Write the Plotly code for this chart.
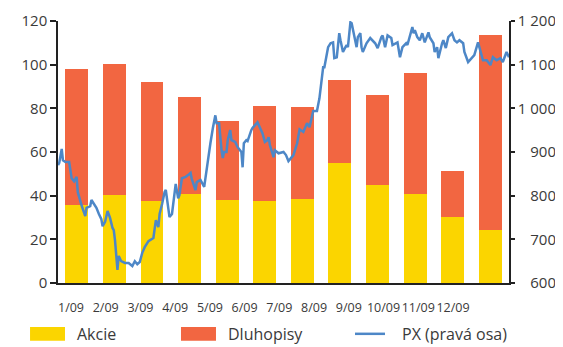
import plotly.graph_objects as go

# ---------------- data ----------------
months = ["1/09", "2/09", "3/09", "4/09", "5/09", "6/09",
          "7/09", "8/09", "9/09", "10/09", "11/09", "12/09"]
akcie = [35.7, 40.3, 37.6, 40.9, 38.0, 37.6, 38.5, 55.0, 44.9, 40.8, 30.2, 24.3]
dluhopisy = [62.3, 60.0, 54.4, 44.3, 36.2, 43.4, 42.1, 38.0, 41.2, 55.4, 21.1, 89.4]

px_day = [0, 1, 3, 4, 6, 9, 11, 13, 15, 16,
          19, 22, 23, 26, 27, 31, 33, 35, 36, 38,
          40, 42, 44, 45, 46, 48, 49, 51, 54, 57,
          60, 62, 64, 66, 68, 70, 73, 74, 77, 78,
          79, 81, 82, 84, 86, 87, 89, 90, 92, 94,
          95, 97, 98, 100, 103, 105, 107, 108, 111, 112,
          115, 118, 120, 123, 125, 127, 128, 130, 132, 133,
          134, 136, 137, 139, 140, 143, 145, 148, 149, 150,
          152, 153, 156, 157, 161, 162, 165, 167, 169, 170,
          171, 174, 175, 178, 182, 184, 186, 188, 190, 193,
          195, 198, 201, 203, 206, 209, 211, 214, 215, 218,
          220, 222, 223, 225, 227, 228, 230, 232, 233, 234,
          236, 237, 239, 241, 242, 244, 245, 246, 249, 252,
          256, 258, 261, 262, 264, 266, 269, 270, 274, 276,
          278, 281, 282, 286, 287, 288, 290, 292, 294, 295,
          296, 299, 300, 303, 304, 306, 307, 310, 311, 313,
          315, 318, 320, 322, 324, 327, 328, 331, 334, 336,
          339, 340, 343, 346, 349, 351, 354, 357, 359, 362,
          364]
px_value = [870, 875, 907, 881, 877, 877, 840, 833, 843, 808,
            778, 753, 772, 776, 790, 772, 758, 746, 730, 740,
            765, 749, 726, 721, 698, 630, 662, 650, 646, 646,
            639, 650, 643, 648, 669, 682, 696, 698, 703, 724,
            744, 728, 758, 781, 808, 813, 767, 751, 758, 801,
            827, 794, 801, 840, 843, 847, 852, 838, 813, 831,
            836, 820, 865, 920, 955, 984, 966, 966, 904, 886,
            900, 900, 927, 950, 927, 923, 911, 900, 865, 920,
            927, 925, 950, 955, 968, 962, 943, 923, 927, 934,
            916, 888, 904, 897, 900, 893, 879, 886, 893, 920,
            952, 946, 966, 957, 994, 994, 1023, 1094, 1094, 1140,
            1149, 1151, 1115, 1117, 1172, 1156, 1129, 1140, 1145, 1140,
            1197, 1195, 1163, 1140, 1163, 1172, 1140, 1129, 1149, 1161,
            1149, 1138, 1163, 1167, 1140, 1167, 1161, 1145, 1151, 1117,
            1140, 1149, 1145, 1186, 1172, 1179, 1163, 1156, 1172, 1161,
            1151, 1174, 1163, 1149, 1129, 1140, 1115, 1149, 1156, 1138,
            1163, 1172, 1156, 1151, 1156, 1149, 1129, 1106, 1117, 1122,
            1151, 1140, 1110, 1110, 1099, 1117, 1110, 1115, 1106, 1129,
            1117]

left_ticks = [0, 20, 40, 60, 80, 100, 120]
right_ticks = [600, 700, 800, 900, 1000, 1100, 1200]
right_ticktext = ["\u2007\u00a0600", "\u2007\u00a0700", "\u2007\u00a0800", "\u2007\u00a0900",
                  "1\u00a0000", "1\u00a0100", "1\u00a0200"]

# ---------------- style ----------------
YELLOW = "#FBD500"
ORANGE = "#F26641"
BLUE = "#4D87C7"
TXT = "#3a3a3a"
FONT = "Open Sans"

x_idx = list(range(len(months)))
label_pos = [i * 0.924 - 0.154 for i in x_idx]

fig = go.Figure()
fig.add_trace(go.Bar(x=x_idx, y=akcie, name="Akcie", marker=dict(color=YELLOW, line=dict(width=0))))
fig.add_trace(go.Bar(x=x_idx, y=dluhopisy, name="Dluhopisy", marker=dict(color=ORANGE, line=dict(width=0))))
fig.add_trace(go.Scatter(x=px_day, y=px_value, name="PX (pravá osa)", mode="lines",
                         line=dict(color=BLUE, width=2.5), xaxis="x2", yaxis="y2"))

# page body has an 8px margin, so the figure is sized 8px smaller each way
fig.update_layout(
    width=555, height=339,
    margin=dict(l=50, r=54, t=13, b=64),
    paper_bgcolor="white", plot_bgcolor="white",
    barmode="stack", bargap=0.39,
    showlegend=False,
    font=dict(family=FONT, color=TXT, size=15),
    xaxis=dict(range=[-0.5, 11.5], showline=True, linecolor="#222", linewidth=1.5,
               showgrid=False, zeroline=False, ticks="", automargin=False,
               tickmode="array", tickvals=label_pos, ticktext=months, tickangle=0,
               tickfont=dict(size=12.5, color=TXT), ticklabelstandoff=12),
    xaxis2=dict(range=[0, 364], overlaying="x", visible=False, automargin=False),
    yaxis=dict(range=[0, 120], tickvals=left_ticks, showline=True, linecolor="#222", linewidth=1.5,
               ticks="outside", ticklen=6, tickcolor="#222", tickwidth=1.5, automargin=False,
               showgrid=False, zeroline=False, tickfont=dict(size=15, color=TXT)),
    yaxis2=dict(range=[600, 1200], tickvals=right_ticks, ticktext=right_ticktext,
                overlaying="y", side="right", anchor="x", showline=True, linecolor="#222", linewidth=1.5,
                ticks="outside", ticklen=4, tickcolor="#222", tickwidth=1.5, automargin=False,
                showgrid=False, zeroline=False, tickfont=dict(size=15, color=TXT)),
)

# ---------------- legend (drawn manually for wide swatches) ----------------
legend_y = -0.194
items = [("Akcie", YELLOW, "rect", -0.062, 0.0155, 0.0377),
         ("Dluhopisy", ORANGE, "rect", 0.2727, 0.3503, 0.3725),
         ("PX (pravá osa)", BLUE, "line", 0.6585, 0.725, 0.7583)]
for name, col, kind, x0, x1, xt in items:
    if kind == "rect":
        fig.add_shape(type="rect", xref="paper", yref="paper", x0=x0, x1=x1,
                      y0=legend_y - 0.026, y1=legend_y + 0.026,
                      fillcolor=col, line=dict(width=0))
    else:
        fig.add_shape(type="line", xref="paper", yref="paper", x0=x0, x1=x1,
                      y0=legend_y, y1=legend_y, line=dict(color=col, width=2.5))
    fig.add_annotation(text=name, xref="paper", yref="paper", x=xt, y=legend_y,
                       xanchor="left", yanchor="middle", showarrow=False,
                       font=dict(size=16, color=TXT, family=FONT))

fig.write_html("out.html")
